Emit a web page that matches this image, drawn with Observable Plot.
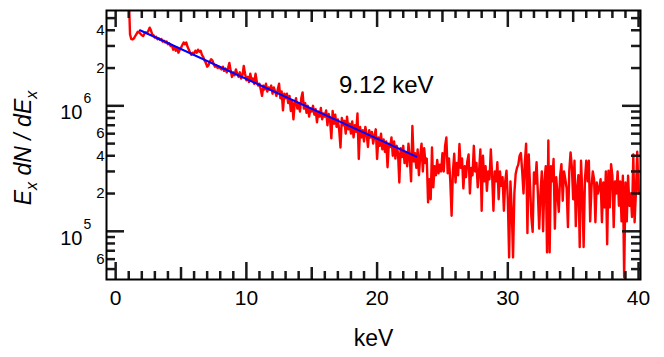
<!DOCTYPE html>
<html><head><meta charset="utf-8">
<script src="https://cdn.jsdelivr.net/npm/d3@7"></script>
<script src="https://cdn.jsdelivr.net/npm/@observablehq/plot@0.6"></script>
<style>body{margin:0;background:#fff;} #chart{width:664px;height:357px;}</style>
</head><body><div id="chart"></div>
<script>
// Spectrum: bins of 0.1 keV starting at 1.0 keV; counts in units of 1e3
const binStart = 1.0;
const binWidth = 0.1;
const countsK = [
  8000,3700,3400,3380,3450,3600,3750,3900,3850,3750,
  3650,3600,3750,3850,3800,3950,4200,4000,3700,3650,
  3500,3550,3400,3450,3350,3400,3250,3300,3200,3250,
  3100,3150,3000,3050,2800,2950,2750,2900,2650,2800,
  2900,3050,3200,3100,3200,2950,2800,2650,2550,2650,
  2600,2750,2650,2800,2700,2750,2550,2450,2300,2200,
  2050,2100,2250,2350,2300,2150,2050,2100,2000,2050,
  2000,1950,2050,1900,1980,1850,2000,2200,1900,1700,
  1850,1750,1950,1800,1700,1850,1650,1750,2080,1800,
  1600,1700,1550,1800,1600,1650,1500,1800,1550,1450,
  1500,1350,1200,1450,1350,1500,1300,1400,1350,1450,
  1250,1400,1300,1200,1350,1500,1150,1300,920,1250,
  1150,1250,1050,1200,910,1100,780,1050,1150,950,
  1050,900,1150,1280,950,1050,880,1000,820,950,
  900,1000,850,940,740,900,820,960,780,870,
  820,920,700,860,780,550,910,720,850,680,
  780,640,465,800,700,760,600,820,650,720,
  600,750,560,700,620,870,377,680,560,640,
  520,680,600,470,640,560,620,500,580,650,
  377,560,480,600,450,540,430,520,324,500,
  470,560,400,520,380,480,420,245,460,390,
  480,350,430,330,500,380,250,690,360,420,
  320,450,280,400,500,300,460,350,380,170,
  260,180,465,224,330,280,370,290,340,300,
  420,300,480,560,290,380,250,133,300,415,
  245,350,280,496,320,380,220,330,270,360,
  410,200,320,280,480,300,350,224,300,450,
  146,400,250,330,210,300,260,450,280,146,
  300,250,355,180,300,230,270,146,250,304,
  180,62,250,150,62,200,286,320,340,400,
  420,300,200,350,500,97,410,230,130,99,
  295,240,355,200,105,200,300,100,250,330,
  68,530,68,330,250,377,105,270,200,143,
  277,343,175,300,260,220,108,300,425,323,
  180,365,110,220,280,75,365,200,75,260,
  365,250,365,120,224,300,260,118,245,200,
  224,260,118,245,155,300,79,304,155,343,
  277,108,250,200,300,160,250,120,277,43,
  245,120,277,160,200,130,410,118,205,430,
  200
];
// Exponential fit (T = 9.12 keV) endpoints
const fitEnergy = [1.86, 23.0];
const fitCountsK = [4000, 394];
const fitLabel = "9.12 keV";
const fitLabelPos = {E: 20.7, N: 1.47e6};

// Axis ticks
const xLabelTicks = [0, 10, 20, 30, 40];
const xMidTicks = [5, 15, 25, 35];
const xMinorTicks = [1,2,3,4,6,7,8,9,11,12,13,14,16,17,18,19,21,22,23,24,26,27,28,29,31,32,33,34,36,37,38,39];
const yDecades = [1e5, 1e6];
const yDecadeExponents = ["5", "6"];
const yMinorTicks = [5e4,6e4,7e4,8e4,9e4,2e5,3e5,4e5,5e5,6e5,7e5,8e5,9e5,2e6,3e6,4e6,5e6];
const yMinorLabelValues = [6e4, 2e5, 4e5, 6e5, 2e6, 4e6];
const yMinorLabelTexts = ["6", "2", "4", "6", "2", "4"];

const font = "'Liberation Sans', Arial, Helvetica, sans-serif";
const W = 664, H = 357, mL = 106, mR = 24, mT = 10, mB = 78;
const frameW = W - mL - mR, frameH = H - mT - mB;
const spectrum = countsK.map((c, i) => ({E: +(binStart + i * binWidth).toFixed(1), N: c * 1000}));
const fit = fitEnergy.map((E, i) => ({E, N: fitCountsK[i] * 1000}));

// inward ticks as rules trimmed with insets
const tickStyle = {stroke: "#1a1a1a", strokeWidth: 2.5};
const tickBottom = (ticks, len) => Plot.ruleX(ticks, {x: d => d, insetTop: frameH - len, ...tickStyle});
const tickTop = (ticks, len) => Plot.ruleX(ticks, {x: d => d, insetBottom: frameH - len, ...tickStyle});
const tickLeft = (ticks, len) => Plot.ruleY(ticks, {y: d => d, insetRight: frameW - len, ...tickStyle});
const tickRight = (ticks, len) => Plot.ruleY(ticks, {y: d => d, insetLeft: frameW - len, ...tickStyle});

const plot = Plot.plot({
  width: W, height: H,
  marginLeft: mL, marginRight: mR, marginTop: mT, marginBottom: mB,
  style: {fontFamily: font, background: "white", color: "black", overflow: "visible"},
  x: {domain: [-0.7, 40.15], axis: null},
  y: {type: "log", domain: [41300, 5750000], axis: null},
  marks: [
    Plot.line(spectrum, {x: "E", y: "N", stroke: "#ff0000", strokeWidth: 2.4, clip: true}),
    Plot.line(fit, {x: "E", y: "N", stroke: "#0000ff", strokeWidth: 2, clip: true}),
    tickBottom(xMinorTicks, 8), tickBottom(xMidTicks, 12), tickBottom(xLabelTicks, 17),
    tickTop(xMinorTicks, 8), tickTop(xMidTicks, 12), tickTop(xLabelTicks, 17),
    tickLeft(yMinorTicks, 9), tickLeft(yDecades, 18),
    tickRight(yMinorTicks, 9), tickRight(yDecades, 18),
    Plot.text(xLabelTicks, {x: d => d, frameAnchor: "bottom", text: d => String(d), dy: 25, fontSize: 21}),
    Plot.text(yMinorLabelValues, {y: d => d, frameAnchor: "left", text: (d, i) => yMinorLabelTexts[i], textAnchor: "end", dx: -2, fontSize: 15}),
    Plot.text(yDecades, {y: d => d, frameAnchor: "left", text: () => "10", textAnchor: "end", dx: -24, dy: 7, fontSize: 20}),
    Plot.text(yDecades, {y: d => d, frameAnchor: "left", text: (d, i) => yDecadeExponents[i], textAnchor: "start", dx: -23, dy: -7, fontSize: 14}),
    Plot.text([fitLabelPos], {x: "E", y: "N", text: () => fitLabel, fontSize: 24}),
    Plot.text(["keV"], {frameAnchor: "bottom", text: d => d, dy: 66, fontSize: 23}),
    Plot.frame({stroke: "black", strokeWidth: 2})
  ]
});
document.getElementById("chart").appendChild(plot);

// Y axis title with subscripts
const t = d3.select(plot).append("text")
  .attr("transform", "translate(31,148) rotate(-90)")
  .attr("text-anchor", "middle")
  .attr("font-family", font)
  .attr("font-size", 23)
  .attr("font-style", "italic")
  .attr("fill", "black");
t.append("tspan").text("E");
t.append("tspan").attr("font-size", 16).attr("dy", 6).text("x");
t.append("tspan").attr("dy", -6).text(" dN / dE");
t.append("tspan").attr("font-size", 16).attr("dy", 6).text("x");
</script>
</body></html>
